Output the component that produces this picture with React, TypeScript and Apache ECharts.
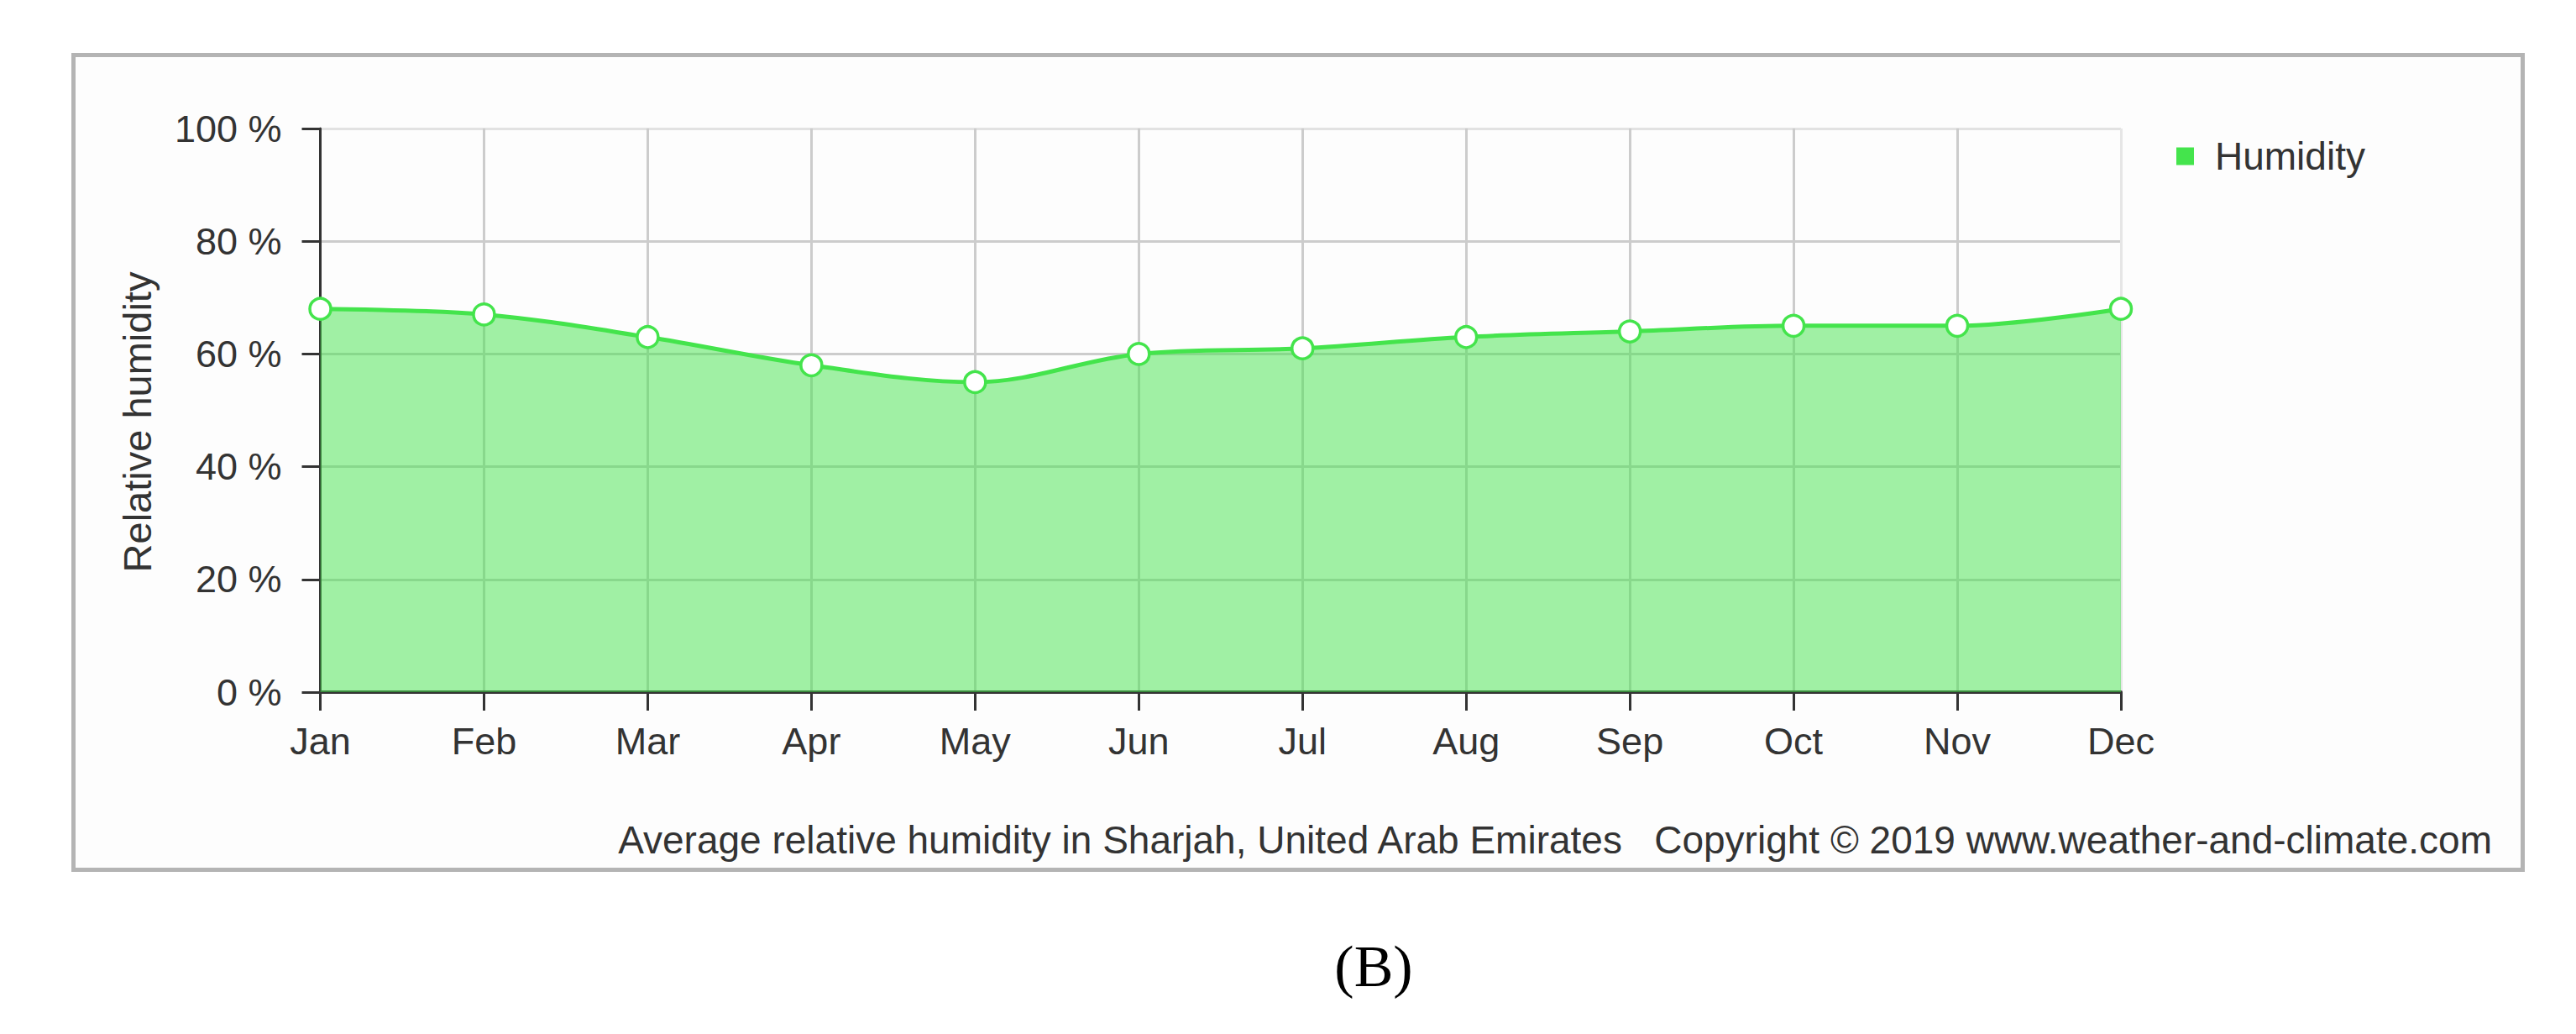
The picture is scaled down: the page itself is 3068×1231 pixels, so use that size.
import React, { useEffect, useRef } from "react";
import * as echarts from "echarts";

const months = ["Jan", "Feb", "Mar", "Apr", "May", "Jun", "Jul", "Aug", "Sep", "Oct", "Nov", "Dec"];
const humidity = [68, 67, 63, 58, 55, 60, 61, 63, 64, 65, 65, 68];
const seriesName = "Humidity";
const yAxisTitle = "Relative humidity";
const creditText = "Average relative humidity in Sharjah, United Arab Emirates   Copyright © 2019 www.weather-and-climate.com";
const panelLabel = "(B)";

const FONT = "Liberation Sans, Arial, sans-serif";
const TEXT = "#333333";
const GREEN = "#44e44c";

export default function App() {
  const ref = useRef<HTMLDivElement>(null);
  useEffect(() => {
    document.body.style.margin = "0";
    const chart = echarts.init(ref.current!, null, { renderer: "svg" });
    const ySplitColors = ["#cccccc", "#cccccc", "#cccccc", "#cccccc", "#cccccc", "#e2e2e2"];
    const xSplitColors = months.map((_, i) => (i === months.length - 1 ? "#e6e6e6" : "#cccccc"));
    chart.setOption({
      animation: false,
      backgroundColor: "#ffffff",
      textStyle: { fontFamily: FONT },
      graphic: [
        {
          type: "rect",
          z: -10,
          shape: { x: 87.5, y: 65.5, width: 2917, height: 970 },
          style: { fill: "#fdfdfd", stroke: "#b4b4b4", lineWidth: 5 },
        },
        {
          type: "text",
          x: 2968,
          y: 1000,
          style: {
            text: creditText,
            align: "right",
            verticalAlign: "middle",
            fontSize: 46,
            fontFamily: FONT,
            fill: TEXT,
          },
        },
        {
          type: "text",
          x: 1636,
          y: 1150,
          style: {
            text: panelLabel,
            align: "center",
            verticalAlign: "middle",
            fontSize: 70,
            fontFamily: "Liberation Serif, Times New Roman, serif",
            fill: "#000000",
          },
        },
      ],
      legend: {
        left: 2587,
        top: 158,
        icon: "rect",
        itemWidth: 21,
        itemHeight: 21,
        itemStyle: { color: GREEN, borderWidth: 0 },
        textStyle: { fontSize: 46, color: TEXT, fontFamily: FONT, padding: [0, 0, 0, 20] },
        data: [seriesName],
      },
      grid: { left: 381.5, right: 542, top: 153, bottom: 407, containLabel: false },
      xAxis: {
        type: "category",
        data: months,
        boundaryGap: false,
        axisLine: { show: true, lineStyle: { color: TEXT, width: 4 } },
        axisTick: { show: true, length: 22, lineStyle: { color: TEXT, width: 3 } },
        axisLabel: { fontSize: 45, color: TEXT, margin: 36, fontFamily: FONT },
        splitLine: { show: true, lineStyle: { color: xSplitColors, width: 3 } },
      },
      yAxis: {
        type: "value",
        min: 0,
        max: 100,
        interval: 20,
        name: yAxisTitle,
        nameLocation: "middle",
        nameGap: 195,
        nameTextStyle: { fontSize: 47, color: TEXT, fontFamily: FONT, padding: [0, 28, 0, 0] },
        axisLine: { show: true, lineStyle: { color: TEXT, width: 3 } },
        axisTick: { show: true, length: 22, lineStyle: { color: TEXT, width: 3 } },
        axisLabel: { fontSize: 45, color: TEXT, margin: 46, formatter: "{value} %", fontFamily: FONT },
        splitLine: { show: true, lineStyle: { color: ySplitColors, width: 3 } },
      },
      series: [
        {
          name: seriesName,
          type: "line",
          data: humidity,
          smooth: 0.35,
          symbol: "circle",
          symbolSize: 25,
          itemStyle: { color: "#ffffff", borderColor: GREEN, borderWidth: 3.5 },
          lineStyle: { color: GREEN, width: 5 },
          areaStyle: { color: GREEN, opacity: 0.5 },
        },
      ],
    });
    return () => chart.dispose();
  }, []);
  return (
    <div
      ref={ref}
      style={{ position: "absolute", left: 0, top: 0, width: 3068, height: 1231, background: "#ffffff" }}
    />
  );
}
